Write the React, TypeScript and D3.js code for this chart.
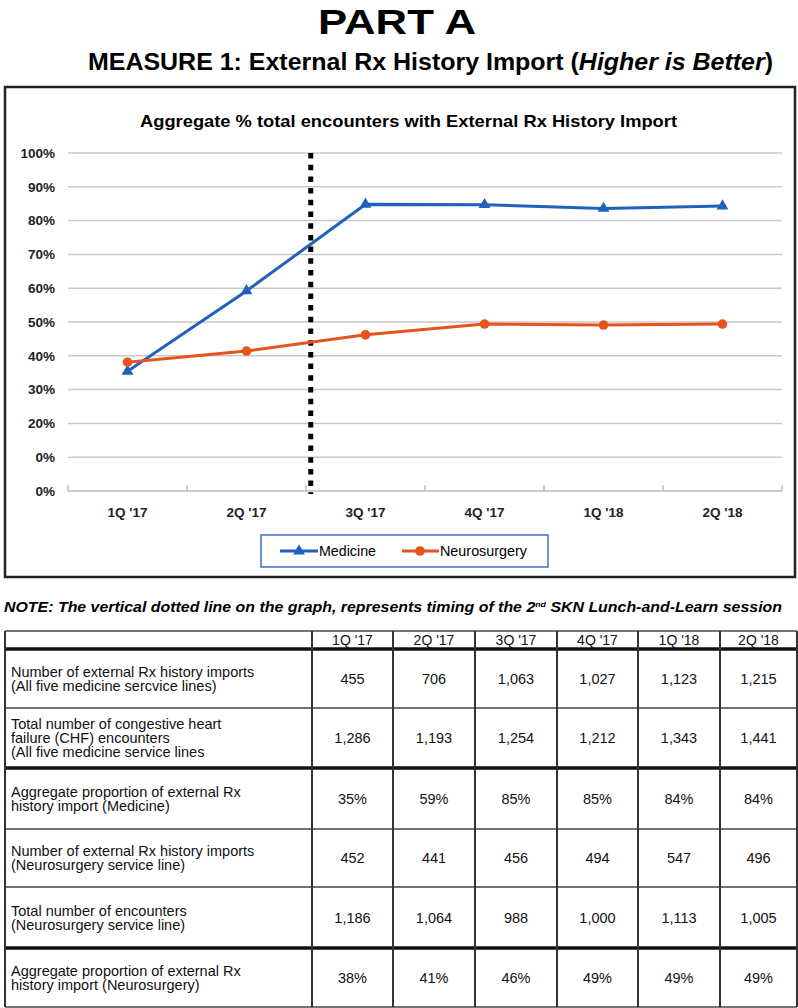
import React from 'react'
import * as d3 from 'd3'

// quarters shown on the x axis and in the table header
const quarters = ["1Q '17", "2Q '17", "3Q '17", "4Q '17", "1Q '18", "2Q '18"]

// aggregate % of encounters with external Rx history import
const medicine = [35.4, 59.2, 84.8, 84.7, 83.6, 84.3]
const neurosurgery = [38.1, 41.4, 46.2, 49.4, 49.1, 49.4]

// y tick values and the labels printed next to them (the 10% tick reads "0%" in the source)
const yTicks = [0, 10, 20, 30, 40, 50, 60, 70, 80, 90, 100]
const yTickLabels = ['0%', '0%', '20%', '30%', '40%', '50%', '60%', '70%', '80%', '90%', '100%']

// timing of the 2nd SKN Lunch-and-Learn session, in quarter index units
const sessionIndex = 1.54

// table rows
const rowLabels = [
  ['Number of external Rx history imports', '(All five medicine sercvice lines)'],
  ['Total number of congestive heart', 'failure (CHF) encounters', '(All five medicine service lines'],
  ['Aggregate proportion of external Rx', 'history import (Medicine)'],
  ['Number of external Rx history imports', '(Neurosurgery service line)'],
  ['Total number of encounters', '(Neurosurgery service line)'],
  ['Aggregate proportion of external Rx', 'history import (Neurosurgery)'],
]
const rowValues = [
  ['455', '706', '1,063', '1,027', '1,123', '1,215'],
  ['1,286', '1,193', '1,254', '1,212', '1,343', '1,441'],
  ['35%', '59%', '85%', '85%', '84%', '84%'],
  ['452', '441', '456', '494', '547', '496'],
  ['1,186', '1,064', '988', '1,000', '1,113', '1,005'],
  ['38%', '41%', '46%', '49%', '49%', '49%'],
]

const FONT = '"Liberation Sans", Arial, sans-serif'
const BLUE = '#2160bd'
const ORANGE = '#e8521c'

export default function App() {
  const x = d3.scaleBand().domain(quarters).range([68, 782])
  const xi = d3.scaleLinear().domain([-0.5, 5.5]).range([68, 782])
  const y = d3.scaleLinear().domain([0, 100]).range([491, 153])
  const cx = (q: string) => (x(q) as number) + x.bandwidth() / 2

  const line = d3
    .line<number>()
    .x((_, i) => cx(quarters[i]))
    .y((d) => y(d))

  const tri = d3.symbol().type(d3.symbolTriangle).size(60)()

  // table geometry
  const colEdges = [5, 312, 393, 475, 557, 638, 720, 797]
  const rowEdges = [631, 649, 708, 768, 829, 887, 948, 1007]
  const thick = new Set([1, 3, 6])

  return (
    <svg
      width={798}
      height={1008}
      style={{ position: 'absolute', left: 0, top: 0, background: '#fff' }}
      fontFamily={FONT}
    >
      <rect width={798} height={1008} fill="#fff" />
      <text x={397} y={34} textAnchor="middle" fontSize={35} fontWeight="bold" textLength={158} lengthAdjust="spacingAndGlyphs">
        PART A
      </text>
      <text x={88} y={70} fontSize={23} fontWeight="bold" textLength={685} lengthAdjust="spacingAndGlyphs">
        MEASURE 1: External Rx History Import (<tspan fontStyle="italic">Higher is Better</tspan>)
      </text>

      {/* chart frame */}
      <rect x={5} y={87} width={790} height={490} fill="#fff" stroke="#222" strokeWidth={2.5} />
      <text x={140} y={127} fontSize={17} fontWeight="bold" textLength={537} lengthAdjust="spacingAndGlyphs">
        Aggregate % total encounters with External Rx History Import
      </text>

      {/* grid + y labels */}
      {yTicks.map((t, i) => (
        <g key={t}>
          {t > 0 && <line x1={68} x2={782} y1={y(t)} y2={y(t)} stroke="#c9c9c9" strokeWidth={1.5} />}
          <text x={55} y={y(t)} dy="0.36em" textAnchor="end" fontSize={13.5} fontWeight="bold" fill="#222">
            {yTickLabels[i]}
          </text>
        </g>
      ))}
      {/* x axis */}
      <line x1={68} x2={782} y1={y(0)} y2={y(0)} stroke="#bdbdbd" strokeWidth={1.5} />
      {d3.range(quarters.length + 1).map((i) => (
        <line key={i} x1={xi(i - 0.5)} x2={xi(i - 0.5)} y1={y(0)} y2={y(0) - 6} stroke="#bdbdbd" strokeWidth={1.5} />
      ))}
      {quarters.map((q) => (
        <text key={q} x={cx(q)} y={517} textAnchor="middle" fontSize={13.5} fontWeight="bold" fill="#222">
          {q}
        </text>
      ))}

      {/* session marker */}
      <line
        x1={xi(sessionIndex)}
        x2={xi(sessionIndex)}
        y1={y(100)}
        y2={y(0) + 3}
        stroke="#000"
        strokeWidth={5}
        strokeDasharray="5.5 6.2"
      />

      {/* series */}
      <path d={line(medicine) as string} fill="none" stroke={BLUE} strokeWidth={3} />
      <path d={line(neurosurgery) as string} fill="none" stroke={ORANGE} strokeWidth={3} />
      {medicine.map((v, i) => (
        <path key={i} d={tri as string} transform={`translate(${cx(quarters[i])},${y(v)})`} fill={BLUE} />
      ))}
      {neurosurgery.map((v, i) => (
        <circle key={i} cx={cx(quarters[i])} cy={y(v)} r={4.8} fill={ORANGE} />
      ))}

      {/* legend */}
      <rect x={261} y={535} width={287} height={32} fill="#fff" stroke="#3b6fc9" strokeWidth={1.5} />
      <line x1={280} x2={318} y1={551} y2={551} stroke={BLUE} strokeWidth={3} />
      <path d={tri as string} transform="translate(299,551)" fill={BLUE} />
      <text x={319} y={551} dy="0.36em" fontSize={15} textLength={57} lengthAdjust="spacingAndGlyphs">
        Medicine
      </text>
      <line x1={402} x2={439} y1={551} y2={551} stroke={ORANGE} strokeWidth={3} />
      <circle cx={420} cy={551} r={4.8} fill={ORANGE} />
      <text x={440} y={551} dy="0.36em" fontSize={15} textLength={87} lengthAdjust="spacingAndGlyphs">
        Neurosurgery
      </text>

      {/* note */}
      <text x={4} y={612} fontSize={14.5} fontWeight="bold" fontStyle="italic" textLength={778} lengthAdjust="spacingAndGlyphs">
        NOTE: The vertical dotted line on the graph, represents timing of the 2
        <tspan fontSize={8} dy={-5}>nd</tspan>
        <tspan dy={5}> SKN Lunch-and-Learn session</tspan>
      </text>

      {/* table */}
      {rowEdges.map((ry, i) => (
        <line
          key={'r' + i}
          x1={colEdges[0]}
          x2={colEdges[colEdges.length - 1]}
          y1={ry}
          y2={ry}
          stroke={thick.has(i) ? '#111' : '#444'}
          strokeWidth={thick.has(i) ? 3.5 : 1.5}
        />
      ))}
      {colEdges.map((cxe, i) => (
        <line key={'c' + i} x1={cxe} x2={cxe} y1={rowEdges[0]} y2={rowEdges[rowEdges.length - 1]} stroke="#333" strokeWidth={2} />
      ))}
      {quarters.map((q, j) => (
        <text key={'h' + q} x={(colEdges[j + 1] + colEdges[j + 2]) / 2} y={645} textAnchor="middle" fontSize={14} fill="#111">
          {q}
        </text>
      ))}
      {rowLabels.map((lines, r) => {
        const mid = (rowEdges[r + 1] + rowEdges[r + 2]) / 2
        const top = mid - ((lines.length - 1) * 14) / 2
        return (
          <g key={'row' + r}>
            {lines.map((l, k) => (
              <text key={k} x={11} y={top + k * 14} dy="0.36em" fontSize={14.5} fill="#111">
                {l}
              </text>
            ))}
            {rowValues[r].map((v, j) => (
              <text key={j} x={(colEdges[j + 1] + colEdges[j + 2]) / 2} y={mid} dy="0.36em" textAnchor="middle" fontSize={14.5} fill="#111">
                {v}
              </text>
            ))}
          </g>
        )
      })}
    </svg>
  )
}
